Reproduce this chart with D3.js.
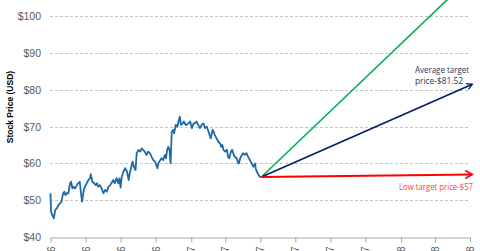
<!DOCTYPE html>
<html>
<head>
<meta charset="utf-8">
<script src="https://cdn.jsdelivr.net/npm/d3@7"></script>
<style>
  body { margin: 0; background: #fff; }
  svg { display: block; font-family: "Liberation Sans", Arial, sans-serif; }
</style>
</head>
<body>
<svg id="chart"></svg>
<script>
let width = 480
let height = 251

// price series: day offset from 1 Jun 2016, closing price (USD)
let startDate = new Date(2016, 5, 1)
let priceDays = [0,1,3,6,8,11,14,17,19,22,24,26,28,31,34,36,38,40,43,46,48,51,53,55,58,60,63,66,69,70,73,76,79,81,83,86,89,92,95,98,101,104,106,109,112,115,118,120,122,124,127,130,133,136,138,140,143,145,148,150,153,156,159,161,164,167,170,173,176,179,182,184,186,188,191,193,196,199,201,203,205,207,208,209,211,214,215,218,221,222,225,227,230,232,235,237,240,243,246,249,251,254,257,260,263,266,269,272,274,277,279,282,284,286,289,292,295,297,299,301,304,307,309,311,314,316,319,321,324,327,328,330,333,335,338,341,344,347,350,353,356,357,359,362,364,367]
let prices = [51.9,46.9,46.0,45.1,47.3,47.8,48.7,49.2,49.6,51.9,52.3,51.4,51.9,51.9,54.6,55.0,53.2,53.7,53.2,54.1,54.6,55.0,51.9,49.6,52.8,53.7,54.6,55.5,56.0,57.1,55.0,54.6,54.1,54.6,53.7,54.1,53.2,51.9,52.8,52.3,53.7,54.1,54.6,55.5,54.6,56.0,54.6,55.9,53.4,56.4,57.8,58.7,57.8,55.5,57.4,58.7,60.5,59.1,58.2,62.8,63.7,63.2,64.1,63.7,63.2,62.3,63.2,62.8,61.8,60.9,60.5,59.6,58.7,60.1,60.9,61.4,60.9,62.3,61.4,63.7,64.5,63.7,61.8,60.0,68.6,69.1,68.2,70.5,70.0,70.9,72.7,70.5,70.9,71.4,70.5,70.5,70.9,71.4,69.6,70.9,70.9,71.4,70.5,69.6,70.5,70.9,69.6,70.0,69.1,67.7,66.8,69.1,68.6,67.7,66.8,65.9,65.5,64.5,65.0,63.7,63.2,63.7,61.8,61.4,63.2,63.7,62.3,61.8,61.4,60.0,60.0,61.4,62.3,62.8,62.3,62.8,61.8,60.9,60.0,59.1,60.0,58.7,57.8,56.9,56.4,56.3]

// analyst targets (12 months out)
let targetNames = ['High', 'Average', 'Low']
let targetValues = [111, 81.52, 57]
let targetColors = ['#00b050', '#002060', '#ff0000']
let targetEndDay = 734

let yTicks = [40, 50, 60, 70, 80, 90, 100]
let xTickLabels = ['Jun-16','Aug-16','Oct-16','Dec-16','Feb-17','Apr-17','Jun-17','Aug-17','Oct-17','Dec-17','Feb-18','Apr-18','Jun-18']

let svg = d3.select('#chart').attr('width', width).attr('height', height)

let dayToDate = (d) => d3.timeDay.offset(startDate, d)

let xScale = d3.scaleTime()
               .domain([startDate, new Date(2018, 5, 1)])
               .range([50.5, 470])
let yScale = d3.scaleLinear()
               .domain([40, 110])
               .range([237, -20.5])

let tickDates = xTickLabels.map((l, i) => d3.timeMonth.offset(startDate, i * 2))

// gridlines
svg.append('g')
   .selectAll('line')
   .data(yTicks.filter(v => v > 40))
   .enter()
   .append('line')
   .attr('x1', 50).attr('x2', 470)
   .attr('y1', d => Math.round(yScale(d)) + 0.5)
   .attr('y2', d => Math.round(yScale(d)) + 0.5)
   .attr('stroke', '#c4c4c4')
   .attr('stroke-width', 1)
   .attr('stroke-dasharray', '3,2')

// y axis labels only
let yAxis = d3.axisLeft(yScale)
              .tickValues(yTicks)
              .tickFormat(d => '$' + d)
              .tickSize(0)
              .tickPadding(9)
let yg = svg.append('g')
   .attr('transform', 'translate(50,0)')
   .call(yAxis)
yg.select('.domain').remove()
yg.selectAll('text')
  .attr('fill', '#595959')
  .style('font-size', '10.5px')
  .style('font-family', '"Liberation Sans", Arial, sans-serif')

// x axis
let xAxis = d3.axisBottom(xScale)
              .tickValues(tickDates)
              .tickFormat((d, i) => xTickLabels[i])
              .tickSizeInner(5)
              .tickSizeOuter(0)
let xg = svg.append('g')
   .attr('transform', 'translate(0,237.5)')
   .call(xAxis)
xg.select('.domain').attr('stroke', '#a6a6a6')
xg.selectAll('.tick line').attr('stroke', '#a6a6a6')
xg.selectAll('text')
  .attr('fill', '#595959')
  .style('font-size', '10px')
  .style('font-family', '"Liberation Sans", Arial, sans-serif')
  .attr('text-anchor', 'end')
  .attr('dy', '0.35em')
  .attr('y', 0)
  .attr('transform', 'translate(0,9) rotate(-90)')

// y axis title
svg.append('text')
   .attr('transform', 'translate(12.5,107) rotate(-90)')
   .attr('text-anchor', 'middle')
   .style('font-size', '8.5px')
   .style('font-weight', 'bold')
   .attr('fill', '#000')
   .text('Stock Price (USD)')

// arrow markers
let defs = svg.append('defs')
targetColors.forEach((c, i) => {
    defs.append('marker')
        .attr('id', 'arrow' + i)
        .attr('viewBox', '0 0 10 10')
        .attr('refX', 8).attr('refY', 5)
        .attr('markerWidth', 5).attr('markerHeight', 5)
        .attr('markerUnits', 'strokeWidth')
        .attr('orient', 'auto')
        .append('path')
        .attr('d', 'M1,1 L8,5 L1,9')
        .attr('fill', 'none')
        .attr('stroke', c)
        .attr('stroke-width', 1.6)
})

// target lines from last close
let lastDay = priceDays[priceDays.length - 1]
let lastPrice = prices[prices.length - 1]
targetValues.forEach((v, i) => {
    svg.append('line')
       .attr('x1', xScale(dayToDate(lastDay)))
       .attr('y1', yScale(lastPrice))
       .attr('x2', xScale(dayToDate(targetEndDay)))
       .attr('y2', yScale(v))
       .attr('stroke', targetColors[i])
       .attr('stroke-width', i == 2 ? 2 : 1.6)
       .attr('marker-end', i == 0 ? null : 'url(#arrow' + i + ')')
})

// price line
let line = d3.line()
             .x((d, i) => xScale(dayToDate(priceDays[i])))
             .y(d => yScale(d))
svg.append('path')
   .datum(prices)
   .attr('d', line)
   .attr('fill', 'none')
   .attr('stroke', '#1f6aa5')
   .attr('stroke-width', 1.8)
   .attr('stroke-linejoin', 'round')

// target labels
let labelFont = '"Open Sans", sans-serif'
svg.append('text')
   .attr('x', 415).attr('y', 72.5)
   .attr('fill', '#1f3864')
   .style('font-size', '9px')
   .style('font-family', labelFont)
   .attr('textLength', 54).attr('lengthAdjust', 'spacingAndGlyphs')
   .text('Average target')
svg.append('text')
   .attr('x', 415).attr('y', 84)
   .attr('fill', '#1f3864')
   .style('font-size', '9px')
   .style('font-family', labelFont)
   .attr('textLength', 48).attr('lengthAdjust', 'spacingAndGlyphs')
   .text('price-$' + targetValues[1])

svg.append('text')
   .attr('x', 473).attr('y', 189.5)
   .attr('text-anchor', 'end')
   .attr('fill', '#ff3b3b')
   .style('font-size', '9.5px')
   .style('font-family', labelFont)
   .attr('textLength', 74).attr('lengthAdjust', 'spacingAndGlyphs')
   .text('Low target price-$' + targetValues[2])
</script>
</body>
</html>
